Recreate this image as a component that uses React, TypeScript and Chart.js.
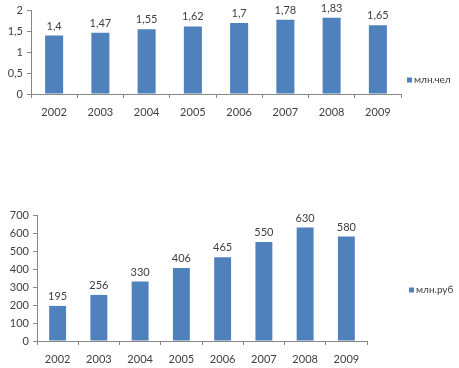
import React, { useEffect, useRef } from "react";
import { Chart, registerables } from "chart.js";

Chart.register(...registerables);

const years = ["2002", "2003", "2004", "2005", "2006", "2007", "2008", "2009"];
const people = [1.4, 1.47, 1.55, 1.62, 1.7, 1.78, 1.83, 1.65];
const rubles = [195, 256, 330, 406, 465, 550, 630, 580];
const peopleLabel = "млн.чел";
const rublesLabel = "млн.руб";

const FONT = "'Liberation Sans Narrow', 'Lato', sans-serif";
const BAR = "#4F81BD";
const AXIS = "#868686";
const TEXT = "#404040";

const fmt = (v: number) => String(v).replace(".", ",");

function makeChart(
  canvas: HTMLCanvasElement,
  data: number[],
  label: string,
  max: number,
  step: number,
  yWidth: number,
  xHeight: number,
  padTop: number,
  padRight: number,
  legendX: number,
  legendY: number,
  barPct: number
) {
  const labelsPlugin = {
    id: "valueLabels",
    afterDatasetsDraw(chart: any) {
      const ctx = chart.ctx;
      const meta = chart.getDatasetMeta(0);
      ctx.save();
      ctx.font = `11px ${FONT}`;
      ctx.fillStyle = TEXT;
      ctx.textAlign = "center";
      ctx.textBaseline = "bottom";
      meta.data.forEach((el: any, i: number) => {
        ctx.fillText(fmt(data[i]), el.x, el.y - 4);
      });
      // legend
      ctx.fillStyle = BAR;
      ctx.fillRect(legendX, legendY - 2.5, 5, 5);
      ctx.fillStyle = TEXT;
      ctx.font = `10px ${FONT}`;
      ctx.textAlign = "left";
      ctx.textBaseline = "middle";
      ctx.fillText(label, legendX + 7, legendY);
      ctx.restore();
    },
  };

  return new Chart(canvas, {
    type: "bar",
    data: {
      labels: years,
      datasets: [
        {
          label,
          data,
          backgroundColor: BAR,
          categoryPercentage: 1,
          barPercentage: barPct,
        },
      ],
    },
    plugins: [labelsPlugin],
    options: {
      animation: false,
      responsive: false,
      maintainAspectRatio: false,
      layout: { padding: { top: padTop, right: padRight, left: 0, bottom: 0 } },
      plugins: { legend: { display: false }, tooltip: { enabled: false } },
      scales: {
        x: {
          grid: {
            display: true,
            drawOnChartArea: false,
            drawTicks: true,
            tickLength: 4,
            offset: true,
            color: AXIS,
          },
          border: { display: true, color: AXIS },
          ticks: {
            font: { family: FONT, size: 11 },
            color: TEXT,
            padding: 8,
            maxRotation: 0,
          },
          afterFit(scale: any) {
            scale.height = xHeight;
          },
        },
        y: {
          min: 0,
          max,
          grid: {
            display: true,
            drawOnChartArea: false,
            drawTicks: true,
            tickLength: 4,
            color: AXIS,
          },
          border: { display: true, color: AXIS },
          ticks: {
            stepSize: step,
            font: { family: FONT, size: 11 },
            color: TEXT,
            padding: 4,
            callback: (v: any) => fmt(Number(v)),
          },
          afterFit(scale: any) {
            scale.width = yWidth;
          },
        },
      },
    },
  });
}

export default function App() {
  const topRef = useRef<HTMLCanvasElement>(null);
  const botRef = useRef<HTMLCanvasElement>(null);

  useEffect(() => {
    const c1 = makeChart(topRef.current!, people, peopleLabel, 2, 0.5, 31, 31, 5, 58, 407, 80, 0.39);
    const c2 = makeChart(botRef.current!, rubles, rublesLabel, 700, 100, 37, 27, 15, 92, 409, 90, 0.41);
    return () => {
      c1.destroy();
      c2.destroy();
    };
  }, []);

  return (
    <div style={{ position: "fixed", left: 0, top: 0, width: 459, height: 368, background: "#fff" }}>
      <canvas ref={topRef} width={459} height={125} style={{ position: "absolute", left: 0, top: 0, width: 459, height: 125 }} />
      <canvas ref={botRef} width={459} height={168} style={{ position: "absolute", left: 0, top: 200, width: 459, height: 168 }} />
    </div>
  );
}
